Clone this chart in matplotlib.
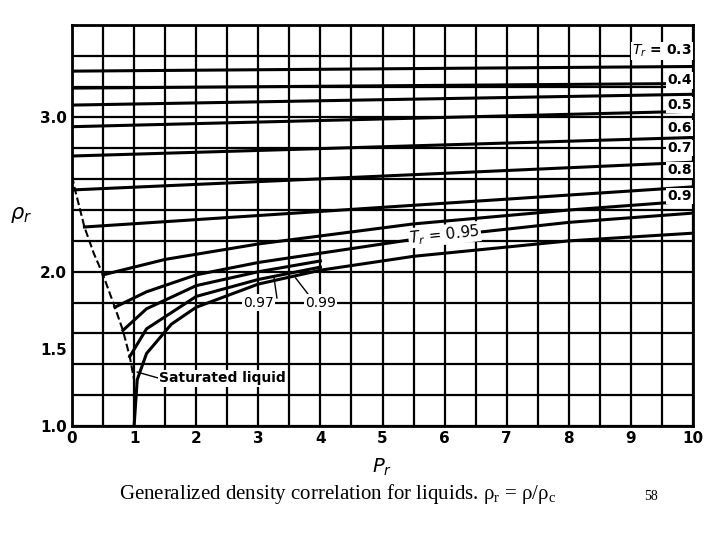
import matplotlib.pyplot as plt
import numpy as np

# isotherms spanning the whole chart: (Tr, Pr points, rho_r points)
tr_labels = ["0.3", "0.4", "0.5", "0.6", "0.7", "0.8", "0.9"]
tr_label_y = [3.43, 3.24, 3.08, 2.93, 2.80, 2.66, 2.49]
tr_pr = [[0, 10]] * 7
tr_rho = [[3.30, 3.33], [3.19, 3.22], [3.08, 3.15], [2.94, 3.04],
          [2.75, 2.87], [2.53, 2.71], [2.29, 2.55]]
tr_start = [0.0, 0.0, 0.0, 0.0, 0.0, 0.0, 0.2]

# near-critical isotherms (curved)
c095_pr = [0.5, 1.5, 3, 5.5, 8, 10]
c095_rho = [1.98, 2.08, 2.18, 2.31, 2.40, 2.46]
cb_pr = [0.69, 1.2, 2, 3, 4, 5.5, 8, 10]
cb_rho = [1.77, 1.87, 1.98, 2.06, 2.12, 2.21, 2.32, 2.38]
c097_pr = [0.82, 1.2, 2, 3, 4]
c097_rho = [1.62, 1.76, 1.91, 2.00, 2.07]
c099_pr = [0.93, 1.2, 2, 3, 4]
c099_rho = [1.45, 1.63, 1.84, 1.95, 2.03]
c1_pr = [1.0, 1.05, 1.2, 1.6, 2, 3, 4, 5.5, 8, 10]
c1_rho = [1.0, 1.3, 1.47, 1.66, 1.77, 1.92, 2.01, 2.10, 2.20, 2.25]

# saturated liquid (dashed)
sat_pr = [0.0, 0.05, 0.2, 0.35, 0.5, 0.69, 0.82, 0.93, 1.0, 1.0]
sat_rho = [2.62, 2.53, 2.29, 2.12, 1.98, 1.77, 1.62, 1.45, 1.3, 1.0]

fig = plt.figure(figsize=(7.2, 5.4), dpi=100)
ax = fig.add_axes([0.1, 0.211, 0.8625, 0.743])
ax.set_xlim(0, 10)
ax.set_ylim(1.0, 3.6)

for x in np.arange(0, 10.01, 0.5):
    ax.axvline(x, color="black", lw=1.6)
for y in np.arange(1.0, 3.61, 0.2):
    ax.axhline(y, color="black", lw=1.6)

box = dict(facecolor="white", edgecolor="none", pad=0.8)
for lab, pr, rho, s, ly in zip(tr_labels, tr_pr, tr_rho, tr_start, tr_label_y):
    ax.plot([s, pr[1]], [rho[0], rho[1]], color="black", lw=2.2)
    if lab != "0.3":
        ax.text(9.98, ly, lab, ha="right", va="center",
                fontsize=10, fontweight="bold", bbox=box, zorder=5)

for pr, rho in [(c095_pr, c095_rho), (cb_pr, cb_rho), (c097_pr, c097_rho),
                (c099_pr, c099_rho), (c1_pr, c1_rho)]:
    ax.plot(pr, rho, color="black", lw=2.2)

ax.plot(sat_pr, sat_rho, color="black", lw=1.5, ls="--")

ax.text(9.98, tr_label_y[0], r"$T_r$ = 0.3", ha="right", va="center", fontsize=10,
        fontweight="bold", bbox=box, zorder=5)
ax.text(6.0, 2.24, r"$T_r$ = 0.95", ha="center", va="center", fontsize=11,
        rotation=6, bbox=dict(facecolor="white", edgecolor="none", pad=0.5))
ax.text(3.0, 1.8, "0.97", ha="center", va="center", fontsize=10,
        bbox=dict(facecolor="white", edgecolor="none", pad=1))
ax.text(4.0, 1.8, "0.99", ha="center", va="center", fontsize=10,
        bbox=dict(facecolor="white", edgecolor="none", pad=1))
ax.plot([3.3, 3.25], [1.83, 1.97], color="black", lw=1)
ax.plot([3.85, 3.6], [1.83, 1.96], color="black", lw=1)
ax.text(1.4, 1.31, "Saturated liquid", ha="left", va="center", fontsize=10,
        fontweight="bold", bbox=dict(facecolor="white", edgecolor="none", pad=1))
ax.plot([1.05, 1.4], [1.35, 1.31], color="black", lw=1)

ax.set_xticks(range(0, 11))
ax.set_yticks([1.0, 1.5, 2.0, 3.0])
ax.set_yticklabels(["1.0", "1.5", "2.0", "3.0"])
ax.tick_params(labelsize=11, length=0)
for t in ax.get_xticklabels() + ax.get_yticklabels():
    t.set_fontweight("bold")
ax.set_xlabel(r"$P_r$", fontsize=14, labelpad=8)
ax.set_ylabel(r"$\rho_r$", fontsize=15, rotation=0, labelpad=14)
for sp in ax.spines.values():
    sp.set_linewidth(2)

fig.text(0.165, 0.075,
         r"Generalized density correlation for liquids. ρ$_\mathregular{r}$ = ρ/ρ$_\mathregular{c}$",
         fontsize=15, family="Liberation Serif")
fig.text(0.895, 0.075, "58", fontsize=10, family="Liberation Serif")

fig.savefig("out.png")
